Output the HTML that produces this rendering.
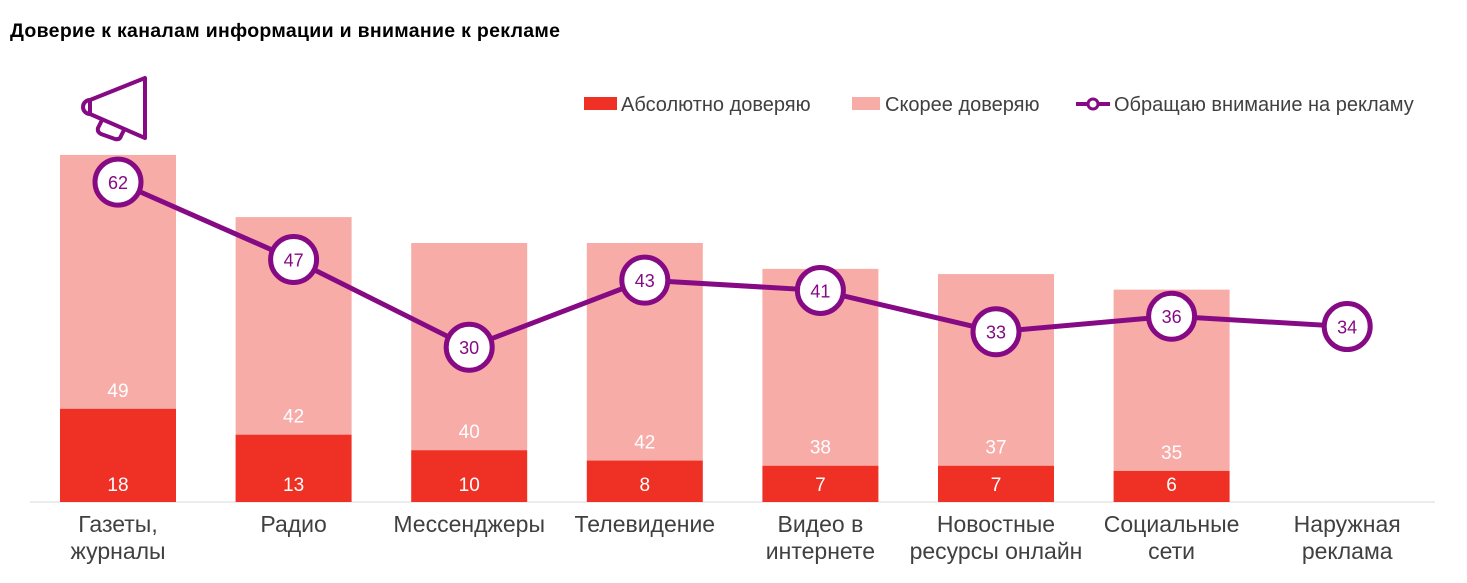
<!DOCTYPE html>
<html><head><meta charset="utf-8"><style>
body{margin:0;background:#fff;font-family:"Liberation Sans",sans-serif}
svg text{font-family:"Liberation Sans",sans-serif}
</style></head><body>
<svg id="c" width="1467" height="578" xmlns="http://www.w3.org/2000/svg">
<text x="10" y="37" font-size="19.5" font-weight="bold" fill="#000" textLength="550">Доверие к каналам информации и внимание к рекламе</text>
<g fill="none" stroke="#850a84" stroke-width="4" stroke-linejoin="round">
<polygon points="90,100 145,78 145,138 90,114"/>
<path d="M90,100 A7,7 0 0 0 90,114"/>
<path d="M103,118 L98,128 Q97,132 101,134 L115,139 Q120,140 121,136 L124,130"/>
</g>
<g>
<rect x="584" y="97" width="33" height="13" fill="#ee3124"/>
<text x="621" y="111" font-size="20" fill="#404040">Абсолютно доверяю</text>
<rect x="852" y="97" width="28" height="13" fill="#f7aca8"/>
<text x="885" y="111" font-size="20" fill="#404040">Скорее доверяю</text>
<line x1="1076" y1="104" x2="1110" y2="104" stroke="#850a84" stroke-width="4"/>
<circle cx="1093" cy="104" r="5" fill="#fff" stroke="#850a84" stroke-width="3"/>
<text x="1114" y="111" font-size="20" fill="#404040">Обращаю внимание на рекламу</text>
</g>
<line x1="30" y1="502" x2="1435" y2="502" stroke="#d9d9d9" stroke-width="1"/>
<g id="marks"></g>
</svg>
<script>
const categories=[["Газеты,","журналы"],["Радио"],["Мессенджеры"],["Телевидение"],["Видео в","интернете"],["Новостные","ресурсы онлайн"],["Социальные","сети"],["Наружная","реклама"]];
const absolute=[18,13,10,8,7,7,6,null];
const rather=[49,42,40,42,38,37,35,null];
const attention=[62,47,30,43,41,33,36,34];
const NS="http://www.w3.org/2000/svg";
const g=document.getElementById('marks');
const base=502, barK=5.18, lineK=5.16;
const xc=i=>118+i*175.6;
const yb=v=>base-v*barK;
const yl=v=>base-v*lineK;
function mk(t,a){const e=document.createElementNS(NS,t);for(const k in a)e.setAttribute(k,a[k]);g.appendChild(e);return e;}
categories.forEach((c,i)=>{
 if(absolute[i]!=null){
  const r1=mk('rect',{x:xc(i)-58,y:yb(absolute[i]+rather[i]),width:116,height:rather[i]*barK,fill:'#f7aca8'});
  
  
  const r2=mk('rect',{x:xc(i)-58,y:yb(absolute[i]),width:116,height:absolute[i]*barK,fill:'#ee3124'});
  
  
  const t1=mk('text',{x:xc(i),y:base-11,'text-anchor':'middle','font-size':19,fill:'#fff'});t1.textContent=absolute[i];
  
  
  const t2=mk('text',{x:xc(i),y:yb(absolute[i])-12,'text-anchor':'middle','font-size':19,fill:'#fff'});t2.textContent=rather[i];
  
  
 }
 c.forEach((ln,j)=>{const t=mk('text',{x:xc(i),y:532+j*27,'text-anchor':'middle','font-size':23,fill:'#404040'});t.textContent=ln;
  
  });
});
const pl=mk('polyline',{points:attention.map((v,i)=>xc(i)+','+yl(v)).join(' '),fill:'none',stroke:'#850a84','stroke-width':5});


attention.forEach((v,i)=>{
 const c=mk('circle',{cx:xc(i),cy:yl(v),r:23,fill:'#fff',stroke:'#850a84','stroke-width':5});
 
 
 const t=mk('text',{x:xc(i),y:yl(v)+7,'text-anchor':'middle','font-size':18,fill:'#850a84'});t.textContent=v;
 
 
});
</script>
</body></html>
